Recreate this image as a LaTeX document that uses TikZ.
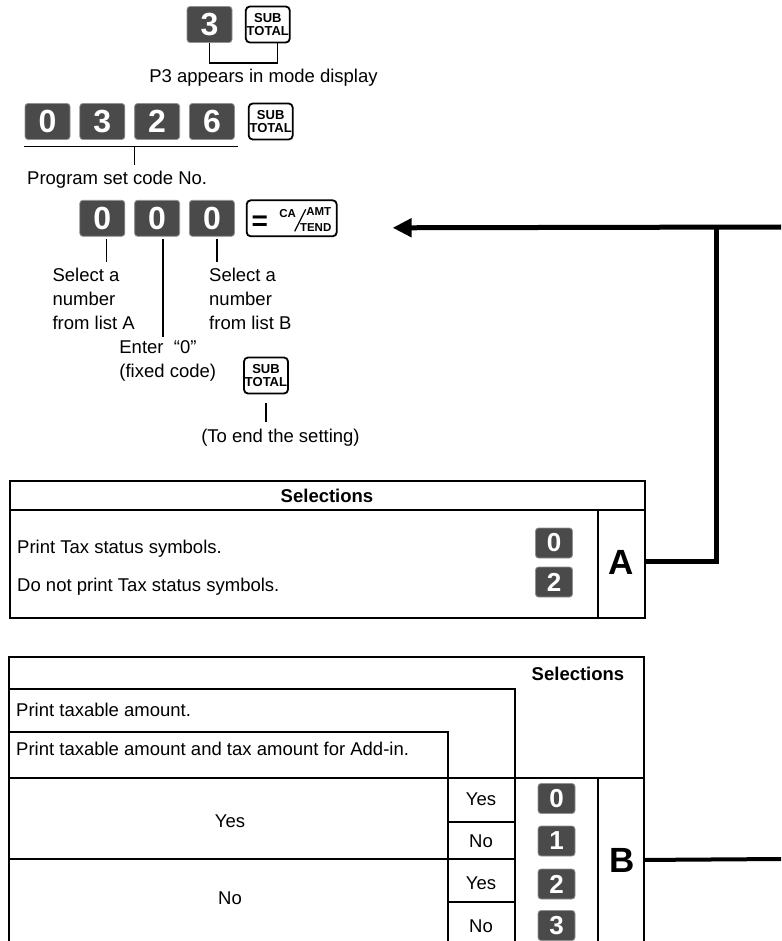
\documentclass[tikz,border=0pt]{standalone}
\usepackage{fontspec}
\setmainfont{Liberation Sans}
\usetikzlibrary{arrows.meta,positioning,calc}
\definecolor{keygray}{RGB}{74,74,74}
\newcommand{\lblfont}{\fontsize{18.5}{24}\selectfont}

\begin{document}
\begin{tikzpicture}[x=1pt, y=-1pt,
  digkey/.style={fill=keygray, draw=keygray!60, line width=0.8, rounded corners=3pt, minimum width=45, minimum height=36, inner sep=0, text=white, font=\bfseries\fontsize{32}{32}\selectfont},
  tabkey/.style={digkey, minimum width=37, minimum height=30, font=\bfseries\fontsize{26}{26}\selectfont},
  fnkey/.style={draw, line width=1.8, rounded corners=4pt, minimum width=44, minimum height=36, inner sep=0, align=center, font=\bfseries\fontsize{13}{13}\selectfont},
  keytxt/.style={inner sep=0, font=\bfseries\fontsize{11.5}{11.5}\selectfont},
  lbl/.style={inner sep=0, align=left, font=\lblfont},
  head/.style={inner sep=0, font=\bfseries\lblfont},
  letter/.style={inner sep=0, font=\bfseries\fontsize{35}{35}\selectfont},
  stub/.style={line width=1.3},
  tabline/.style={line width=2},
  conn/.style={line width=5}]
\useasboundingbox (0,0) rectangle (781,941);

% mode
\node[digkey] (m3) at (209.5,24.5) {3};
\node[fnkey, right=12.5pt of m3] (st1) {SUB\\TOTAL};
\node[lbl, anchor=base] (modetxt) at (263.5,83) {P3 appears in mode display};
\draw[stub] (m3.south) -- ++(0,20) -| ([xshift=9.5pt]st1.south);

% set code
\node[digkey] (c0) at (47.5,121.5) {0};
\node[digkey, right=9pt of c0] (c3) {3};
\node[digkey, right=9pt of c3] (c2) {2};
\node[digkey, right=9pt of c2] (c6) {6};
\node[fnkey, right=13pt of c6] (st2) {SUB\\TOTAL};
\node[lbl, anchor=base west] (pcode) at (27,185) {Program set code No.};
\draw[stub] ([xshift=-1pt,yshift=-6.5pt]c0.south west) -- ([xshift=3pt,yshift=-6.5pt]c6.south east);
\draw[stub] ([yshift=-6.5pt]c2.south west) -- ($(c2.south west |- pcode.north)+(0,-6)$);

% data
\node[digkey, below=60pt of c3] (s0) {0};
\node[digkey, right=9pt of s0] (s1) {0};
\node[digkey, right=9pt of s1] (s2) {0};
\node[fnkey, minimum width=90, right=11pt of s2] (ca) {};
\node[inner sep=0, font=\bfseries\fontsize{28}{28}\selectfont] (caeq) at ($(ca.center)+(-32,4.5)$) {=};
\node[keytxt] (cat) at ($(ca.center)+(-4,-4.5)$) {CA};
\node[keytxt] (amt) at ($(ca.center)+(27,-6.5)$) {AMT};
\node[keytxt] (tend) at ($(ca.center)+(24,9)$) {TEND};
\draw[line width=1.3] ($(ca.center)+(14,-9)$) -- ($(ca.center)+(3,13)$);

\node[lbl, anchor=north west] (selA) at ($(s0.south west)+(-27,31)$) {Select a\\number\\from list A};
\node[lbl, anchor=north west] (selB) at ($(s2.south west)+(20,31)$) {Select a\\number\\from list B};
\node[lbl, anchor=north west] (enter) at ($(s1.south west)+(-15,104)$) {Enter\ \ “0”\\(fixed code)};
\draw[stub] ($(s0.south)+(4,2.5)$) -- ($(s0.south |- selA.north)+(4,-6)$);
\draw[stub] ($(s1.south)+(6,2.5)$) -- ($(s1.south |- enter.north)+(6,-4)$);
\draw[stub] ($(s2.south)+(5,2.5)$) -- ($(s2.south |- selB.north)+(5,-6)$);

\node[fnkey] (st3) at (266,375.5) {SUB\\TOTAL};
\node[lbl, anchor=base] (toend) at (280.5,442) {(To end the setting)};
\draw[stub] ($(st3.south)+(0,9)$) -- ($(st3.south |- toend.north)+(0,-6)$);

% list A
\node[draw, tabline, minimum width=635, minimum height=137, inner sep=0, anchor=north west] (tabA) at (9,480) {};
\draw[tabline] (tabA.west |- 0,510) -- (tabA.east |- 0,510);
\draw[tabline] (598,510) -- (tabA.south -| 598,0);
\node[head, anchor=base] (selhA) at (327,502) {Selections};
\node[lbl, anchor=base west] (taxon) at (17,553) {Print Tax status symbols.};
\node[lbl, anchor=base west] (taxoff) at (17,591) {Do not print Tax status symbols.};
\node[tabkey] (ka0) at (554,543) {0};
\node[tabkey] (ka2) at (554,582) {2};
\node[letter, anchor=base] (letA) at (621,574) {A};

% list B
\coordinate (bedge) at (644,657);
\draw[tabline] (9,945) -- (9,657) -- (bedge) -- (644,945);
\draw[tabline] (9,689) -- (515,689) -- (515,945);
\draw[tabline] (9,732) -- (448,732) -- (448,945);
\draw[tabline] (9,778) -- (644,778);
\draw[tabline] (598,778) -- (598,945);
\draw[tabline] (9,859) -- (515,859);
\foreach \y in {822,902} \draw[tabline] (448,\y) -- (515,\y);
\node[head, anchor=base] (selhB) at (578,680) {Selections};
\node[lbl, anchor=base west] (taxamt) at (16,716.5) {Print taxable amount.};
\node[lbl, anchor=base west] (addin) at (16,755.5) {Print taxable amount and tax amount for Add-in.};
\node[lbl, anchor=base] (yesA) at (230,827.5) {Yes};
\node[lbl, anchor=base] (noA) at (230,904.5) {No};
\foreach \t/\y [count=\i] in {Yes/805.5, No/847.5, Yes/889.5, No/932.5}
  \node[lbl, anchor=base] (ans\i) at (481,\y) {\t};
\foreach \k/\y in {0/798.5, 1/841, 2/884, 3/925.5}
  \node[tabkey] (kb\k) at (556.5,\y) {\k};
\node[letter, anchor=base] (letB) at (622,872) {B};

% connectors
\coordinate (tip) at ($(ca.east)+(55,9.5)$);
\coordinate (jA) at (716,227);
\coordinate (rimA) at (781,227);
\coordinate (rimB) at (781,859);
\draw[conn, -{Triangle[length=19pt, width=18pt]}] (rimA) -- (tip);
\draw[conn] (tabA.east |- letA) -| (jA);
\draw[conn, line width=4] (letB -| bedge) -- (rimB);
\end{tikzpicture}
\end{document}
